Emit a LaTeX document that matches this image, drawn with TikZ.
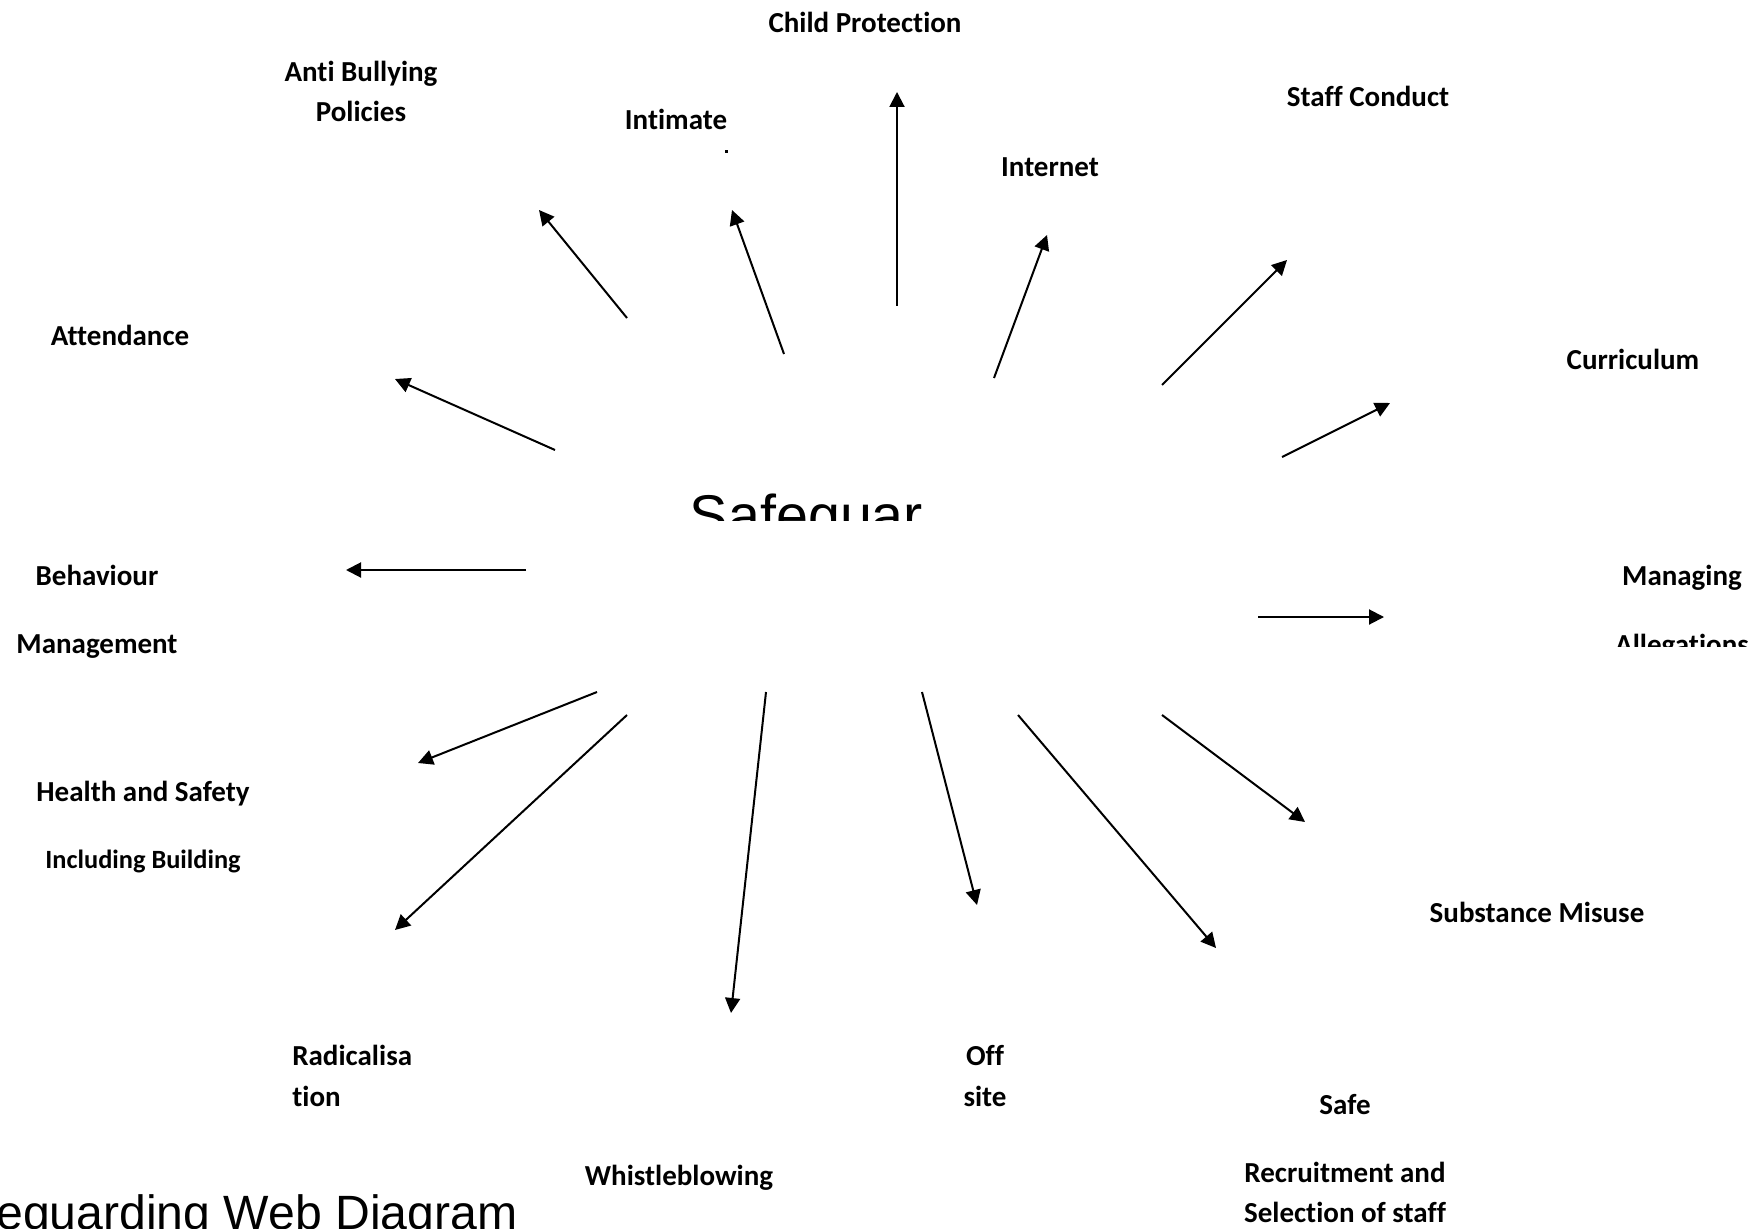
\documentclass[tikz,border=0pt]{standalone}
\usepackage{fontspec}
\setmainfont{Carlito}[Ligatures=NoCommon]
\newfontfamily\hubfont{Liberation Sans}
\usetikzlibrary{arrows.meta}
\definecolor{wbedge}{RGB}{0,0,0}
\definecolor{wbtext}{RGB}{0,0,0}
\tikzset{
  lbl/.style={
    text=wbtext, anchor=base, inner sep=0pt,
    font=\fontsize{16.5}{19}\selectfont\bfseries
  },
  sublbl/.style={lbl, font=\fontsize{15}{18}\selectfont\bfseries},
  hub/.style={
    text=wbtext, anchor=base, inner sep=0pt,
    font=\hubfont\fontsize{32.7}{38}\selectfont
  },
  ttl/.style={
    text=wbtext, anchor=base west, inner sep=0pt,
    font=\hubfont\fontsize{27.4}{31}\selectfont
  },
  arr/.style={-{Triangle[length=3mm,width=3mm]}, draw=wbedge, line width=0.4mm}
}
\begin{document}
\begin{tikzpicture}[x=0.02cm,y=-0.02cm]
  \useasboundingbox (0,0) rectangle (1763,1229);
  \clip (0,0) rectangle (1763,1229);
  \fill[white] (0,0) rectangle (1763,1229);

  % centre word, cut off below
  \begin{scope}
    \clip (600,470) rectangle (1000,520);
    \node[hub] (hub) at (806.5,535) {Safeguar};
  \end{scope}

  % labels round the web
  \node[lbl] (cp) at (865,33) {Child Protection};
  \node[lbl] (ab1) at (361,82) {Anti Bullying};
  \node[lbl] (ab2) at (361,122) {Policies};
  \node[lbl] (im) at (676,130) {Intimate};
  \fill[wbtext] (724.5,150.5) rectangle (727.5,153.5);
  \node[lbl] (sc) at (1368,107) {Staff Conduct};
  \node[lbl] (in) at (1050,177) {Internet};
  \node[lbl] (cu) at (1633,370) {Curriculum};
  \node[lbl] (at) at (120,346) {Attendance};
  \node[lbl] (bm1) at (97,585) {Behaviour};
  \node[lbl] (bm2) at (97,653) {Management};
  \node[lbl] (ma1) at (1682,585) {Managing};
  \begin{scope}
    \clip (1550,600) rectangle (1763,646);
    \node[lbl] (ma2) at (1682,654) {Allegations};
  \end{scope}
  \node[lbl] (hs1) at (143,801) {Health and Safety};
  \node[sublbl] (hs2) at (143,868) {Including Building};
  \node[lbl] (sm) at (1537,922) {Substance Misuse};
  \node[lbl, anchor=base west] (ra1) at (292,1065) {Radicalisa};
  \node[lbl, anchor=base west] (ra2) at (292,1106) {tion};
  \node[lbl] (os1) at (985,1065) {Off};
  \node[lbl] (os2) at (985,1106) {site};
  \node[lbl] (sr1) at (1345,1114) {Safe};
  \node[lbl] (sr2) at (1345,1182) {Recruitment and};
  \node[lbl] (sr3) at (1345,1222) {Selection of staff};
  \node[lbl] (wb) at (679,1185) {Whistleblowing};
  \node[ttl] (ttl) at (-4,1229) {eguarding Web Diagram};

  % spokes
  \coordinate (cp-s) at (897,306);  \coordinate (cp-e) at (897,92);
  \coordinate (im-s) at (784,354);  \coordinate (im-e) at (732,210);
  \coordinate (ab-s) at (627,318);  \coordinate (ab-e) at (539,210);
  \coordinate (at-s) at (555,450);  \coordinate (at-e) at (395,379);
  \coordinate (in-s) at (994,378);  \coordinate (in-e) at (1047,235);
  \coordinate (sc-s) at (1162,385); \coordinate (sc-e) at (1287,260);
  \coordinate (cu-s) at (1282,457); \coordinate (cu-e) at (1390,403);
  \coordinate (bm-s) at (526,570);  \coordinate (bm-e) at (346,570);
  \coordinate (ma-s) at (1258,617); \coordinate (ma-e) at (1384,617);
  \coordinate (hs-s) at (597,692);  \coordinate (hs-e) at (418,763);
  \coordinate (ra-s) at (627,715);  \coordinate (ra-e) at (395,930);
  \coordinate (wb-s) at (766,692);  \coordinate (wb-e) at (731,1013);
  \coordinate (os-s) at (922,692);  \coordinate (os-e) at (977,905);
  \coordinate (sr-s) at (1018,715); \coordinate (sr-e) at (1216,948);
  \coordinate (sm-s) at (1162,715); \coordinate (sm-e) at (1305,822);
  \foreach \k in {cp,im,ab,at,in,sc,cu,bm,ma,hs,ra,wb,os,sr,sm}
    \draw[arr] (\k-s) -- (\k-e);
\end{tikzpicture}
\end{document}
